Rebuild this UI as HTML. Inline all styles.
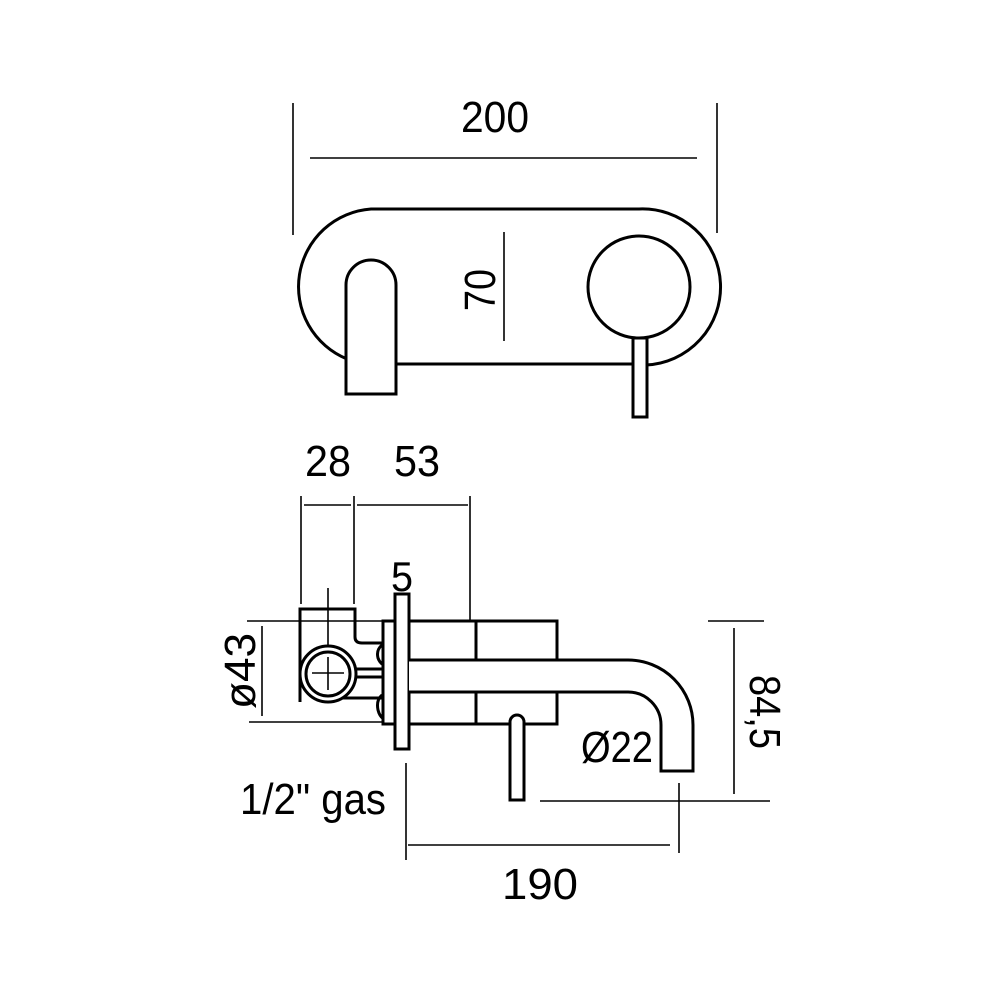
<!DOCTYPE html>
<html><head><style>html,body{margin:0;padding:0;background:#fff}</style></head>
<body>
<svg width="1000" height="1000" viewBox="0 0 1000 1000" xmlns="http://www.w3.org/2000/svg" font-family="Liberation Sans, sans-serif" font-size="44" fill="none" stroke="#000">
<!-- top view -->
<g stroke-width="1.6">
<line x1="293" y1="103" x2="293" y2="235"/>
<line x1="717" y1="103" x2="717" y2="233"/>
<line x1="310" y1="158" x2="697" y2="158"/>
<line x1="504" y1="232" x2="504" y2="341"/>
</g>
<g stroke-width="3">
<path d="M347 359 A78 78 0 0 1 371 209 L639 209 A78 78 0 0 1 646 365"/>
<line x1="396" y1="364" x2="634" y2="364"/>
<path d="M346 394 L346 285 A25 25 0 0 1 396 285 L396 394 Z" fill="#fff"/>
<circle cx="639" cy="287" r="51"/>
<rect x="633" y="338" width="14" height="79" fill="#fff"/>
</g>
<g fill="#000" stroke="none">
<text x="495" y="132" text-anchor="middle" textLength="68" lengthAdjust="spacingAndGlyphs">200</text>
<text transform="translate(495,290) rotate(-90)" text-anchor="middle" textLength="42" lengthAdjust="spacingAndGlyphs">70</text>
</g>
<!-- side view dims -->
<g stroke-width="1.6">
<line x1="301" y1="496" x2="301" y2="604"/>
<line x1="354" y1="496" x2="354" y2="604"/>
<line x1="470" y1="496" x2="470" y2="620"/>
<line x1="304" y1="505" x2="351" y2="505"/>
<line x1="357" y1="505" x2="468" y2="505"/>
<line x1="328" y1="588" x2="328" y2="690"/>
<line x1="247" y1="621" x2="382" y2="621"/>
<line x1="249" y1="722" x2="382" y2="722"/>
<line x1="262" y1="626" x2="262" y2="716"/>
<line x1="708" y1="621" x2="764" y2="621"/>
<line x1="734" y1="628" x2="734" y2="794"/>
<line x1="540" y1="801" x2="770" y2="801"/>
<line x1="679" y1="783" x2="679" y2="853"/>
<line x1="406" y1="763" x2="406" y2="860"/>
<line x1="408" y1="845" x2="670" y2="845"/>
</g>
<g stroke-width="3">
<path d="M300 702 L300 609 L355 609 L355 637 Q355 643 362 643 L382 643"/>
<path d="M382 695 Q376 700 378 710 Q380 718 386 720"/>
<path d="M382 645 Q376 650 378 658 Q380 664 386 666"/>
<line x1="338" y1="698" x2="382" y2="698"/>
<line x1="352" y1="677" x2="382" y2="677"/>
<line x1="352" y1="669" x2="382" y2="669"/>
<circle cx="328" cy="674" r="28" fill="#fff"/>
<circle cx="328" cy="674" r="22"/>
<line x1="312" y1="673" x2="344" y2="673" stroke-width="1.6"/>
<line x1="328" y1="657" x2="328" y2="690" stroke-width="1.6"/>
<rect x="383" y="621" width="12" height="103" fill="#fff"/>
<rect x="395" y="594" width="14" height="155" fill="#fff"/>
<rect x="409" y="621" width="67" height="103"/>
<rect x="476" y="621" width="81" height="103"/>
<path d="M409 660 L628 660 A65 65 0 0 1 693 725 L693 771 L661 771 L661 725 A33 33 0 0 0 628 692 L409 692" fill="#fff"/>
<path d="M510 800 L510 722 A7 7 0 0 1 524 722 L524 800 Z" fill="#fff"/>
</g>
<g fill="#000" stroke="none">
<text x="328" y="476" text-anchor="middle" textLength="46" lengthAdjust="spacingAndGlyphs">28</text>
<text x="417" y="476" text-anchor="middle" textLength="46" lengthAdjust="spacingAndGlyphs">53</text>
<text x="402" y="591" text-anchor="middle" textLength="22" lengthAdjust="spacingAndGlyphs" font-size="42">5</text>
<text transform="translate(255,671) rotate(-90)" text-anchor="middle" textLength="76" lengthAdjust="spacingAndGlyphs">ø43</text>
<text transform="translate(750,712) rotate(90)" text-anchor="middle" textLength="74" lengthAdjust="spacingAndGlyphs">84,5</text>
<text x="617" y="762" text-anchor="middle" textLength="72" lengthAdjust="spacingAndGlyphs">Ø22</text>
<text x="313" y="814" text-anchor="middle" textLength="146" lengthAdjust="spacingAndGlyphs">1/2" gas</text>
<text x="540" y="899" text-anchor="middle" textLength="76" lengthAdjust="spacingAndGlyphs">190</text>
</g>
</svg>
</body></html>
